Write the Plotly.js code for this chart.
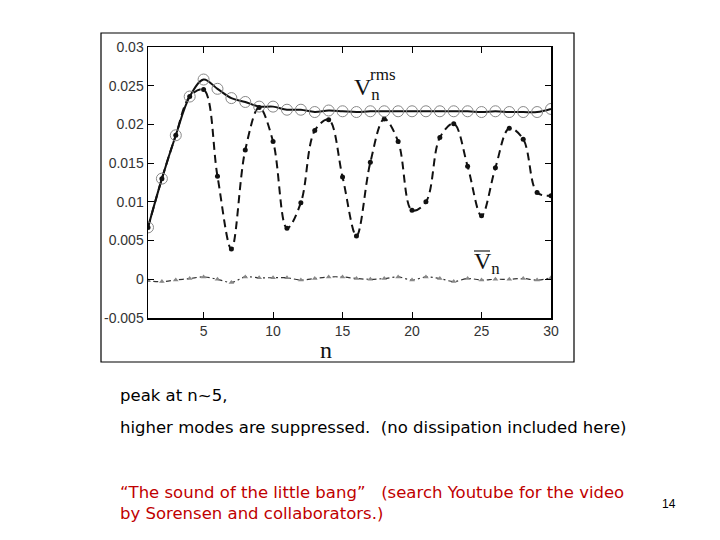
<!DOCTYPE html>
<html>
<head>
<meta charset="utf-8">
<script src="https://cdn.plot.ly/plotly-3.0.1.min.js"></script>
<style>html,body{margin:0;padding:0;background:#fff;}#chart{width:720px;height:540px;}</style>
</head>
<body>
<div id="chart"></div>
<script>
var modes = [1,2,3,4,5,6,7,8,9,10,11,12,13,14,15,16,17,18,19,20,21,22,23,24,25,26,27,28,29,30];
var vRms = [0.0067,0.0130,0.0186,0.0236,0.0258,0.0246,0.0234,0.0229,0.0223,0.0223,0.0219,0.0219,0.0216,0.0218,0.0217,0.0216,0.0217,0.0217,0.0217,0.0217,0.0217,0.0217,0.0217,0.0217,0.0216,0.0217,0.0216,0.0216,0.0216,0.0220];
var vN = [0.0067,0.0130,0.0186,0.0236,0.0245,0.0133,0.0039,0.0167,0.0222,0.0178,0.0066,0.0099,0.0192,0.0206,0.0132,0.0056,0.0151,0.0207,0.0178,0.0089,0.0100,0.0183,0.0201,0.0146,0.0082,0.0144,0.0195,0.0181,0.0112,0.0108];
var vMean = [-0.0002,-0.0003,-0.0001,0.0001,0.0003,0.0000,-0.0004,0.0003,0.0002,0.0002,0.0002,-0.0001,0.0001,0.0003,0.0003,0.0001,0.0000,0.0001,0.0003,-0.0001,0.0003,0.0001,-0.0003,0.0001,-0.0001,0.0000,0.0000,0.0001,-0.0001,0.0002];
var yTickVals = [-0.005,0,0.005,0.01,0.015,0.02,0.025,0.03];
var yTickText = ['-0.005','0','0.005','0.01','0.015','0.02','0.025','0.03'];
var xTickVals = [5,10,15,20,25,30];

var traces = [
  {x: modes, y: vMean, mode: 'lines+markers', line: {color: '#333', width: 1.2, dash: '2px,3px,5px,3px', shape: 'spline'},
   marker: {symbol: 'triangle-up', size: 5, color: '#888'}, hoverinfo: 'skip'},
  {x: modes, y: vN, mode: 'lines+markers', line: {color: '#111', width: 2, dash: '8px,5px', shape: 'spline'},
   marker: {symbol: 'circle', size: 5, color: '#111'}, hoverinfo: 'skip'},
  {x: modes, y: vRms, mode: 'lines+markers', line: {color: '#111', width: 2, shape: 'spline'},
   marker: {symbol: 'circle-open', size: 11, color: '#888', line: {width: 1}}, hoverinfo: 'skip'}
];

var W = 403, H = 271, L = 148, T = 47;
function px(x){ return (x - L) / W; }
function py(y){ return (T + H - y) / H; }

var layout = {
  width: 720, height: 540,
  margin: {l: 148, r: 169, t: 47, b: 222},
  paper_bgcolor: '#fff', plot_bgcolor: '#fff',
  showlegend: false,
  xaxis: {range: [1, 30], tickvals: xTickVals, ticks: 'inside', ticklen: 6, tickcolor: '#000',
    showline: true, linecolor: '#000', linewidth: 1.5, mirror: 'ticks', showgrid: false, zeroline: false,
    tickfont: {family: 'Liberation Sans, Arial, sans-serif', size: 14, color: '#333'}},
  yaxis: {range: [-0.005, 0.03], tickvals: yTickVals, ticktext: yTickText, ticks: 'inside', ticklen: 6, tickcolor: '#000',
    showline: true, linecolor: '#000', linewidth: 1.5, mirror: 'ticks', showgrid: false, zeroline: false,
    tickfont: {family: 'Liberation Sans, Arial, sans-serif', size: 14, color: '#333'}},
  shapes: [
    {type: 'rect', xref: 'paper', yref: 'paper', x0: px(101), x1: px(574), y0: py(362), y1: py(33),
     line: {color: '#000', width: 1.2}, fillcolor: 'rgba(0,0,0,0)'},
    {type: 'line', xref: 'paper', yref: 'paper', x0: px(474), x1: px(490), y0: py(251), y1: py(251),
     line: {color: '#222', width: 1.2}}
  ],
  annotations: [
    {xref: 'paper', yref: 'paper', x: px(326), y: py(350), xanchor: 'center', yanchor: 'middle', showarrow: false,
     text: 'n', font: {family: 'Liberation Serif, Times New Roman, serif', size: 24, color: '#111'}},
    {xref: 'paper', yref: 'paper', x: px(352), y: py(89), xanchor: 'left', yanchor: 'middle', showarrow: false,
     text: 'V<sub>n</sub>', font: {family: 'Liberation Serif, Times New Roman, serif', size: 24, color: '#111'}},
    {xref: 'paper', yref: 'paper', x: px(368), y: py(74), xanchor: 'left', yanchor: 'middle', showarrow: false,
     text: 'rms', font: {family: 'Liberation Serif, Times New Roman, serif', size: 17, color: '#111'}},
    {xref: 'paper', yref: 'paper', x: px(472), y: py(263), xanchor: 'left', yanchor: 'middle', showarrow: false,
     text: 'V<sub>n</sub>', font: {family: 'Liberation Serif, Times New Roman, serif', size: 24, color: '#111'}},
    {xref: 'paper', yref: 'paper', x: px(118), y: py(395), xanchor: 'left', yanchor: 'middle', showarrow: false, align: 'left',
     text: 'peak at n~5,', font: {family: 'DejaVu Sans, sans-serif', size: 16.5, color: '#000'}},
    {xref: 'paper', yref: 'paper', x: px(118), y: py(427), xanchor: 'left', yanchor: 'middle', showarrow: false, align: 'left',
     text: 'higher modes are suppressed.  (no dissipation included here)', font: {family: 'DejaVu Sans, sans-serif', size: 16.5, color: '#000'}},
    {xref: 'paper', yref: 'paper', x: px(118), y: py(503), xanchor: 'left', yanchor: 'middle', showarrow: false, align: 'left',
     text: '\u201CThe sound of the little bang\u201D   (search Youtube for the video<br>by Sorensen and collaborators.)',
     font: {family: 'DejaVu Sans, sans-serif', size: 16.5, color: '#c00000'}},
    {xref: 'paper', yref: 'paper', x: px(669), y: py(504), xanchor: 'center', yanchor: 'middle', showarrow: false,
     text: '14', font: {family: 'Liberation Sans, Arial, sans-serif', size: 12, color: '#000'}}
  ]
};
Plotly.newPlot('chart', traces, layout, {displayModeBar: false, staticPlot: true});
</script>
</body>
</html>
